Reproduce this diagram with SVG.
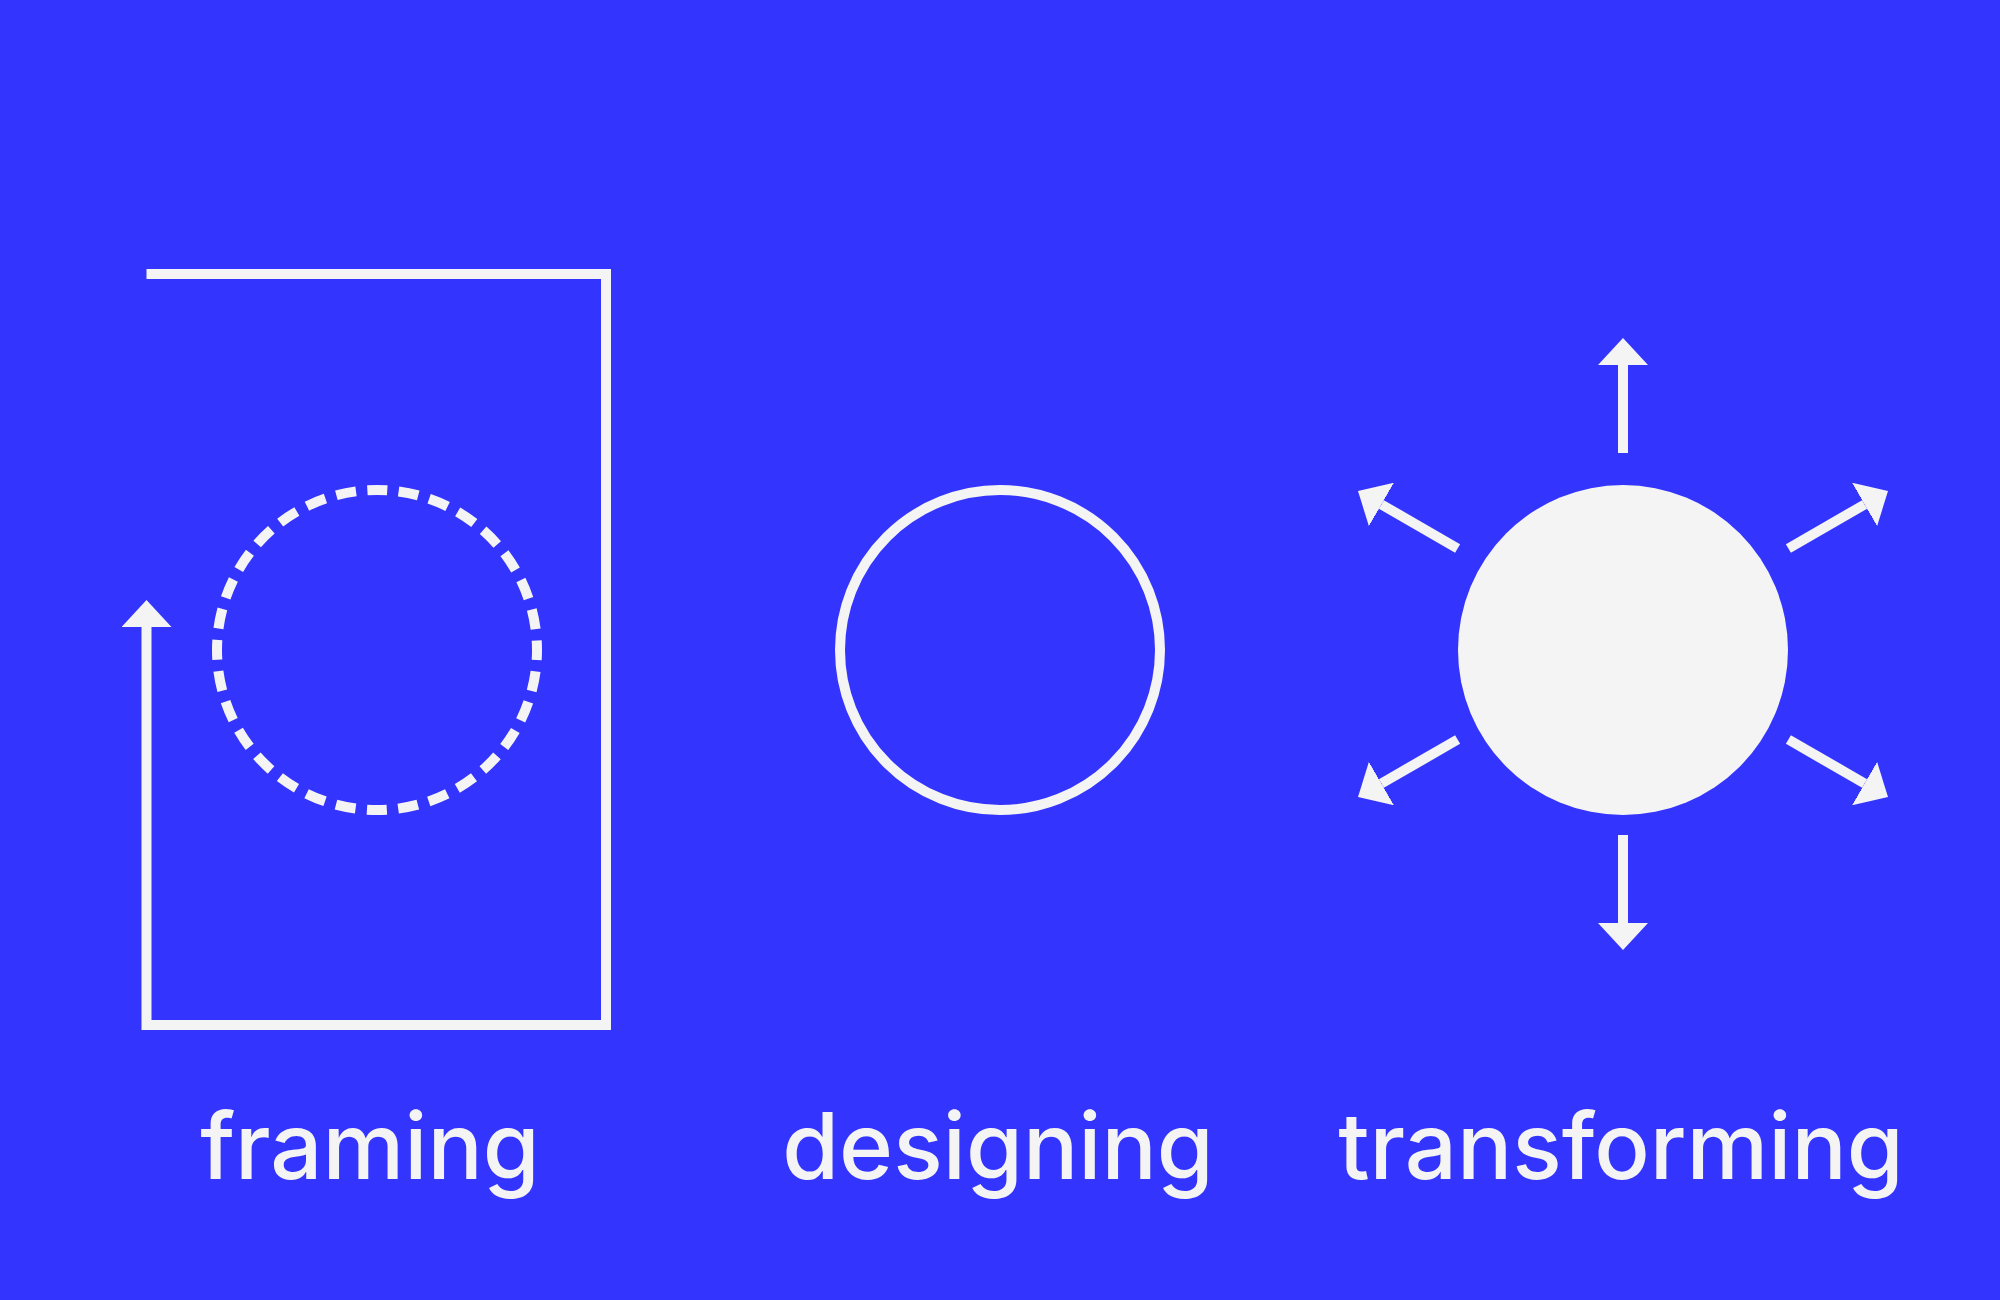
<svg xmlns="http://www.w3.org/2000/svg" width="2000" height="1300" viewBox="0 0 2000 1300">
  <style>
    .ln { fill: none; stroke: #F4F4F4; stroke-width: 10; stroke-linejoin: miter; stroke-linecap: butt; }
    .lbl { font-family: Inter, "Liberation Sans", sans-serif; font-size: 92px; font-weight: 500; fill: #F4F4F4; text-anchor: middle; }
  </style>
  <defs>
    <marker id="ah" markerUnits="userSpaceOnUse" markerWidth="27" markerHeight="50" refX="0" refY="25" orient="auto" viewBox="0 0 27 50">
      <path d="M0,0 L27,25 L0,50 Z" fill="#F4F4F4"/>
    </marker>
  </defs>
  <rect x="0" y="0" width="2000" height="1300" fill="#3434FF"/>

  <g id="framing">
    <circle cx="377" cy="650" r="160" class="ln" stroke-dasharray="20 11.416" stroke-dashoffset="10"/>
  </g>
  <g id="designing">
    <circle cx="1000" cy="650" r="160" class="ln"/>
  </g>
  <g id="transforming">
    <circle cx="1623" cy="650" r="165" fill="#F4F4F4"/>
  </g>

  <g id="connectors">
    <path class="ln" d="M146.5,274 H606 V1025 H146.5 V627" marker-end="url(#ah)"/>
    <line class="ln" x1="1623" y1="453" x2="1623" y2="365" marker-end="url(#ah)"/>
    <line class="ln" x1="1623" y1="835" x2="1623" y2="923" marker-end="url(#ah)"/>
    <line class="ln" x1="1788.4" y1="548.5" x2="1864.6" y2="504.5" marker-end="url(#ah)"/>
    <line class="ln" x1="1457.6" y1="548.5" x2="1381.4" y2="504.5" marker-end="url(#ah)"/>
    <line class="ln" x1="1788.4" y1="739.5" x2="1864.6" y2="783.5" marker-end="url(#ah)"/>
    <line class="ln" x1="1457.6" y1="739.5" x2="1381.4" y2="783.5" marker-end="url(#ah)"/>
  </g>

  <g id="labels">
    <text class="lbl" x="370" y="1179">framing</text>
    <text class="lbl" x="998" y="1179">designing</text>
    <text class="lbl" x="1621" y="1179">transforming</text>
  </g>
</svg>
